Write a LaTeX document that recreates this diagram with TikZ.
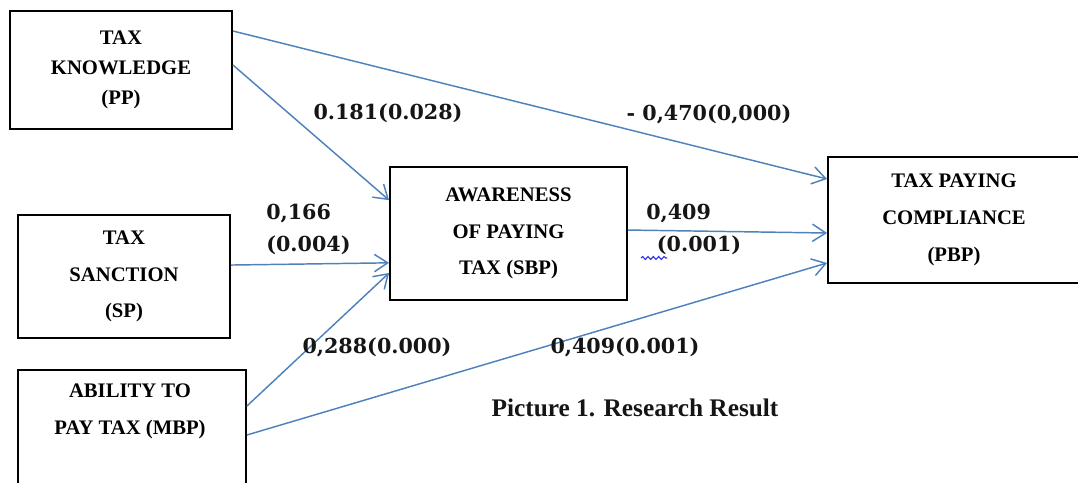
\documentclass[tikz,border=0pt]{standalone}
\usepackage{fontspec}
\setmainfont{Liberation Serif}
\newfontfamily\numfont{DejaVu Serif}
\usepackage{xcolor}
\usetikzlibrary{arrows.meta,decorations.pathmorphing}
\definecolor{rrInk}{HTML}{151515}
\definecolor{rrBlue}{HTML}{4F81BD}
\definecolor{rrSpell}{HTML}{2B2BE0}
\tikzset{
  boxtxt/.style={rectangle,align=center,inner sep=0pt,
    font=\fontsize{15.5}{27.5}\selectfont\bfseries,text=black},
  varbox/.style={boxtxt,draw=black,line width=1.4pt},
  lbl/.style={inner sep=0pt,text=rrInk,
    font=\numfont\fontsize{15.5}{24}\selectfont\bfseries},
  captxt/.style={inner sep=0pt,text=rrInk,
    font=\fontsize{19}{21}\selectfont\bfseries},
  arr/.style={-{Straight Barb[length=10pt,width=13pt]},line width=1.1pt,color=rrBlue},
  spellmark/.style={decorate,decoration={snake,amplitude=1.1pt,segment length=4pt},
    color=rrSpell,line width=0.8pt},
}
\begin{document}
\begin{tikzpicture}[x=0.75pt,y=-0.75pt]
  \clip (0,0) rectangle (1078,482);
  % variables
  \node[varbox,minimum width=166.5pt,minimum height=88.5pt] (pp) at (121,70)
    {TAX\\[-5pt]KNOWLEDGE\\[-5pt](PP)};
  \node[varbox,minimum width=159pt,minimum height=92.25pt] (sp) at (124,276.5)
    {TAX\\SANCTION\\(SP)};
  \node[varbox,minimum width=171pt,minimum height=97.5pt] (mbp) at (132,435) {};
  \node[boxtxt] (mbptxt) at (130,411.5) {ABILITY TO\\PAY TAX (MBP)};
  \node[varbox,minimum width=177.75pt,minimum height=99.75pt] (sbp) at (508.5,233.5)
    {AWARENESS\\OF PAYING\\TAX (SBP)};
  \node[varbox,minimum width=189pt,minimum height=94.5pt] (pbp) at (954,220)
    {TAX PAYING\\COMPLIANCE\\(PBP)};

  % paths
  \draw[arr] ([yshift=29.25pt]pp.east) -- ([yshift=30.75pt]pbp.west);
  \draw[arr] ([yshift=3.75pt]pp.east) -- ([yshift=25pt]sbp.west);
  \draw[arr] ([yshift=8.6pt]sp.east) -- ([yshift=-22pt]sbp.west);
  \draw[arr] ([yshift=21.75pt]mbp.east) -- ([yshift=-29.6pt]sbp.west);
  \draw[arr] (mbp.east) -- ([yshift=-32.25pt]pbp.west);
  \draw[arr] ([yshift=2.6pt]sbp.east) -- ([yshift=-9.75pt]pbp.west);

  % coefficients
  \node[lbl] (l181) at (388,113) {0.181(0.028)};
  \node[lbl] (l470) at (709,114) {- 0,470(0,000)};
  \node[lbl,align=left,anchor=west] (l166) at (266,229) {0,166\\(0.004)};
  \node[lbl,align=left,anchor=west] (l409a) at (646,229) {0,409\\\hspace*{8pt}(0.001)};
  \node[lbl] (l288) at (377,347) {0,288(0.000)};
  \node[lbl] (l409b) at (625,347) {0,409(0.001)};
  \draw[spellmark] (641,258) -- (667,258);

  \node[captxt] (caption) at (635,408) {Picture 1. Research Result};
\end{tikzpicture}
\end{document}
